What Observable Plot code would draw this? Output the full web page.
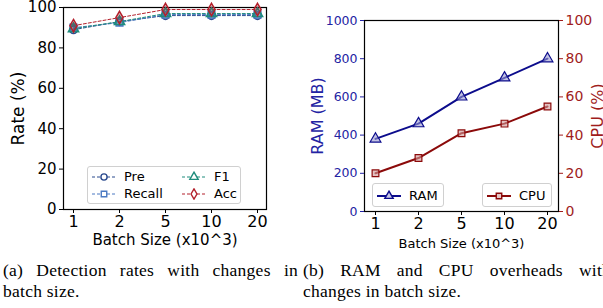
<!DOCTYPE html>
<html><head><meta charset="utf-8">
<script src="https://cdn.jsdelivr.net/npm/d3@7"></script>
<script src="https://cdn.jsdelivr.net/npm/@observablehq/plot@0.6"></script>
<style>
body{margin:0;background:#fff;width:603px;height:308px;overflow:hidden;position:relative;font-family:"DejaVu Sans",sans-serif}
.chart{position:absolute;top:0}
.chart svg{overflow:visible}
.cap{position:absolute;font-family:"Liberation Serif",serif;font-size:17.5px;letter-spacing:0.25px;line-height:21px;color:#000}
.just{text-align:justify;text-align-last:justify}
.legend{position:absolute;border:1px solid #d0d0d0;border-radius:3px;background:#fff;font-size:13px;color:#000}
.legend .e{position:absolute;white-space:nowrap;display:flex;align-items:center}
.legend svg{margin-right:8px}
</style></head><body>
<div id="a" class="chart" style="left:0"></div>
<div id="b" class="chart" style="left:300px"></div>
<div id="lega" class="legend" style="left:87px;top:166px;width:152px;height:36px"></div>
<div id="legb1" class="legend" style="left:372px;top:183px;width:70px;height:22px"></div>
<div id="legb2" class="legend" style="left:482px;top:183px;width:68px;height:22px"></div>
<div class="cap" style="left:3px;top:260px;width:295px"><div class="just">(a) Detection rates with changes in</div><div>batch size.</div></div>
<div class="cap" style="left:303px;top:260px;width:308px"><div class="just">(b) RAM and CPU overheads with</div><div>changes in batch size.</div></div>
<script>
// ---- data ----
const batch = ["1", "2", "5", "10", "20"];
const pre = [89, 93, 96, 96, 96];
const recall = [90, 92.5, 96.5, 96.5, 96.5];
const f1 = [89.5, 93, 97, 97, 97];
const acc = [91, 95, 99, 99, 99];
const ram = [380, 460, 600, 700, 800];
const cpu = [20, 28, 41, 46, 55];
const rateTicks = [0, 20, 40, 60, 80, 100];
const ramTicks = [0, 200, 400, 600, 800, 1000];

const seriesA = [
  {name: "Pre", values: pre, color: "#2b4a8e", symbol: "circle"},
  {name: "Recall", values: recall, color: "#4a79c2", symbol: "square"},
  {name: "F1", values: f1, color: "#1f8c7c", symbol: "triangle"},
  {name: "Acc", values: acc, color: "#b3202c", symbol: "diamond"}
];
const rowsA = seriesA.flatMap(s => batch.map((b, i) => ({batch: b, v: s.values[i], name: s.name})));
const rowsB = batch.map((b, i) => ({batch: b, ram: ram[i], cpu: cpu[i]}));

const marksA = [];
for (const s of seriesA) {
  const d = rowsA.filter(r => r.name === s.name);
  marksA.push(Plot.line(d, {x: "batch", y: "v", stroke: s.color, strokeWidth: 1, strokeDasharray: "3,2"}));
}
for (const s of seriesA) {
  const d = rowsA.filter(r => r.name === s.name);
  marksA.push(Plot.dot(d, {x: "batch", y: "v", stroke: s.color, fill: s.color, fillOpacity: 0.25, strokeWidth: 1.5, symbol: s.symbol, r: 3.8}));
}

const plotA = Plot.plot({
  width: 300, height: 255,
  marginLeft: 63, marginRight: 34, marginTop: 7, marginBottom: 46,
  style: {fontFamily: "DejaVu Sans", color: "#000", background: "transparent", overflow: "visible"},
  x: {type: "point", domain: batch, padding: 0.2},
  y: {domain: [0, 100]},
  marks: [
    Plot.frame({stroke: "#000", strokeWidth: 1.2}),
    Plot.axisX({ticks: batch, tickSize: 4, tickPadding: 2, fontSize: 16, label: null}),
    Plot.axisX({ticks: [], label: "Batch Size (x10^3)", labelAnchor: "center", labelOffset: 35, labelArrow: "none", fontSize: 15}),
    Plot.axisY({ticks: rateTicks, tickSize: 4, tickPadding: 3, fontSize: 15, label: null}),
    Plot.axisY({ticks: [], label: "Rate (%)", labelAnchor: "center", labelOffset: 52, labelArrow: "none", fontSize: 17}),
    ...marksA
  ]
});
document.getElementById("a").appendChild(plotA);

const blue = "#0c0c8c", red = "#8b0a0a";
const plotB = Plot.plot({
  width: 303, height: 255,
  marginLeft: 64, marginRight: 45, marginTop: 20, marginBottom: 44,
  style: {fontFamily: "DejaVu Sans", color: "#000", background: "transparent", overflow: "visible"},
  x: {type: "point", domain: batch, padding: 0.22},
  y: {domain: [0, 1000]},
  marks: [
    Plot.frame({stroke: "#000", strokeWidth: 1.2}),
    Plot.axisX({ticks: batch, tickSize: 4, tickPadding: 2, fontSize: 16, label: null}),
    Plot.axisX({ticks: [], label: "Batch Size (x10^3)", labelAnchor: "center", labelOffset: 36, labelArrow: "none", fontSize: 13}),
    Plot.axisY({ticks: ramTicks, tickFormat: d => String(d), tickSize: 4, tickPadding: 3, fontSize: 12.5, color: "#2323a3", label: null}),
    Plot.axisY({ticks: [], label: "RAM (MB)", labelAnchor: "center", labelOffset: 53, labelArrow: "none", fontSize: 16, color: "#2323a3"}),
    Plot.axisY({anchor: "right", ticks: ramTicks, tickFormat: d => String(d / 10), tickSize: 4, tickPadding: 3, fontSize: 14, color: "#a01c1c", label: null}),
    Plot.axisY({anchor: "right", ticks: [], label: "CPU (%)", labelAnchor: "center", labelOffset: 44, labelArrow: "none", fontSize: 16, color: "#a01c1c"}),
    Plot.line(rowsB, {x: "batch", y: "ram", stroke: blue, strokeWidth: 2}),
    Plot.dot(rowsB, {x: "batch", y: "ram", symbol: "triangle", stroke: blue, fill: "#9a9ad0", fillOpacity: 0.6, strokeWidth: 1.2, r: 4}),
    Plot.line(rowsB, {x: "batch", y: d => d.cpu * 10, stroke: red, strokeWidth: 2}),
    Plot.dot(rowsB, {x: "batch", y: d => d.cpu * 10, symbol: "square", stroke: red, fill: "#d09a9a", fillOpacity: 0.6, strokeWidth: 1.2, r: 3.8})
  ]
});
document.getElementById("b").appendChild(plotB);

// ---- legends (HTML) ----
function sample(color, symbol, dashed, fill, sw) {
  const w = 24, h = 12;
  const sym = d3.symbol().type({circle: d3.symbolCircle, square: d3.symbolSquare, triangle: d3.symbolTriangle, diamond: d3.symbolDiamond}[symbol]).size(30)();
  return `<svg width="${w}" height="${h}"><line x1="0" x2="${w}" y1="${h/2}" y2="${h/2}" stroke="${color}" stroke-width="${sw}" ${dashed ? 'stroke-dasharray="3,2"' : ''}/><path d="${sym}" transform="translate(${w/2},${h/2})" stroke="${color}" stroke-width="1.4" fill="${fill}"/></svg>`;
}
const lega = document.getElementById("lega");
const posA = [[4, 2], [4, 19], [94, 2], [94, 19]];
seriesA.forEach((s, i) => {
  const e = document.createElement("div");
  e.className = "e";
  e.style.left = posA[i][0] + "px"; e.style.top = posA[i][1] + "px";
  e.innerHTML = sample(s.color, s.symbol, true, "#fff", 1) + `<span>${s.name}</span>`;
  lega.appendChild(e);
});
const lb1 = document.getElementById("legb1");
lb1.innerHTML = `<div class="e" style="left:4px;top:4px">${sample(blue, "triangle", false, "#c8c8e6", 2)}<span>RAM</span></div>`;
const lb2 = document.getElementById("legb2");
lb2.innerHTML = `<div class="e" style="left:4px;top:4px">${sample(red, "square", false, "#e6c8c8", 2)}<span>CPU</span></div>`;
</script>
</body></html>
